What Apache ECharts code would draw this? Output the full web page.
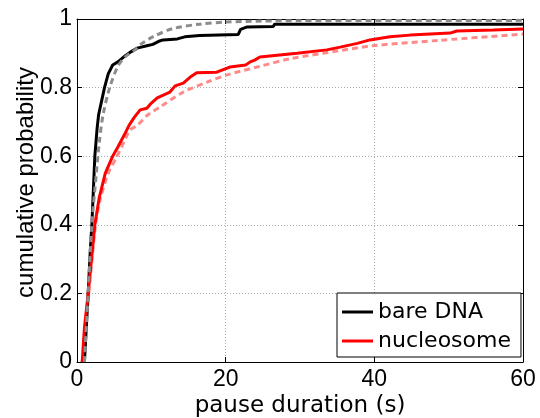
<!DOCTYPE html>
<html><head><meta charset="utf-8">
<script src="https://cdn.jsdelivr.net/npm/echarts@6/dist/echarts.min.js"></script>
<style>html,body{margin:0;padding:0;background:#fff}#c{width:540px;height:418px}</style>
</head><body><div id="c"></div>
<script>
// bare DNA empirical CDF (pause duration s, cumulative probability)
const bareX = [1.0,1.3,1.5,1.8,2.0,2.2,2.4,2.7,2.9,3.3,3.7,4.2,4.8,5.5,6.5,7.3,8.1,9.4,10.2,11.0,11.6,13.5,14.5,16.5,21.7,22.0,22.9,26.4,26.6,60];
const bareY = [0,0.12,0.2,0.33,0.4,0.5,0.6,0.68,0.72,0.76,0.8,0.84,0.866,0.875,0.893,0.905,0.915,0.922,0.926,0.935,0.939,0.942,0.948,0.952,0.955,0.97,0.977,0.978,0.985,0.985];
// nucleosome empirical CDF
const nucX = [0.7,1.0,1.5,2.0,2.4,3.0,3.8,4.8,5.5,6.5,7.0,7.7,8.5,9.4,10.0,10.8,12.5,13.2,14.3,15.2,16.1,18.8,20.2,20.6,22.7,23.3,23.9,24.6,29.6,33.6,35.4,37.7,39.4,42.1,44.8,50.2,51.1,56,60];
const nucY = [0,0.1,0.2,0.31,0.4,0.48,0.55,0.6,0.627,0.668,0.69,0.713,0.735,0.74,0.755,0.77,0.787,0.805,0.813,0.83,0.843,0.845,0.857,0.86,0.866,0.875,0.88,0.889,0.9,0.91,0.918,0.929,0.939,0.948,0.953,0.959,0.965,0.968,0.971];
// fitted curves (dashed)
const bareFitX = [1.0,1.5,2.0,2.6,3.0,3.5,4.4,5.5,6.5,7.8,8.5,10.2,12.9,16.5,20,25,30,60];
const bareFitY = [0,0.2,0.4,0.55,0.64,0.72,0.8,0.862,0.89,0.91,0.925,0.948,0.972,0.985,0.991,0.994,0.995,0.996];
const nucFitX = [0.7,1.1,1.6,2.5,3.2,4.2,5.4,6.5,7.1,8.1,9.5,11.2,14.3,17.5,20.2,24.6,28.7,35.4,39.8,48.8,60];
const nucFitY = [0,0.1,0.2,0.4,0.48,0.55,0.6,0.65,0.676,0.69,0.72,0.744,0.787,0.816,0.837,0.862,0.884,0.908,0.922,0.938,0.956];
const seriesNames = ['bare DNA','nucleosome'];
const xTicks = [0,20,40,60];
const yTicks = [0,0.2,0.4,0.6,0.8,1];

const zip = (a,b)=>a.map((v,i)=>[v,b[i]]);
const numFont = "'Liberation Sans', Arial, sans-serif";
const txtFont = "'DejaVu Sans', sans-serif";
const chart = echarts.init(document.getElementById('c'), null, {renderer:'canvas'});
const baseX = {type:'value',min:0,max:60,interval:20,
  axisLine:{show:true,onZero:false,lineStyle:{color:'#000',width:1}},
  axisTick:{show:true,inside:true,length:5,lineStyle:{color:'#000'}}};
const baseY = {type:'value',min:0,max:1,interval:0.2,
  axisLine:{show:true,onZero:false,lineStyle:{color:'#000',width:1}},
  axisTick:{show:true,inside:true,length:5,lineStyle:{color:'#000'}}};
chart.setOption({
  animation:false,
  grid:{left:77,top:19,right:17,bottom:56,containLabel:false,outerBoundsMode:'none'},
  legend:{data:seriesNames,orient:'vertical',left:337,top:293,
    backgroundColor:'#fff',borderColor:'#000',borderWidth:1,
    padding:[7,10,4,5],itemGap:5,itemWidth:31,itemHeight:3,icon:'rect',
    textStyle:{fontFamily:txtFont,fontSize:22,color:'#000',lineHeight:24}},
  xAxis:[Object.assign({},baseX,{position:'bottom',
      name:'pause duration (s)',nameLocation:'middle',nameGap:33,nameMoveOverlap:false,
      nameTextStyle:{fontFamily:txtFont,fontSize:23,color:'#000'},
      axisLabel:{fontFamily:numFont,fontSize:23,color:'#000',margin:6,formatter:v=>xTicks.includes(v)?String(v):''},
      splitLine:{show:true,lineStyle:{color:'#aaa',type:[1,2],width:1}}}),
    Object.assign({},baseX,{position:'top',axisLabel:{show:false},splitLine:{show:false}})],
  yAxis:[Object.assign({},baseY,{position:'left',
      name:'cumulative probability',nameLocation:'middle',nameGap:39,nameMoveOverlap:false,
      nameTextStyle:{fontFamily:numFont,fontSize:24,color:'#000',padding:[0,0,0,16]},
      axisLabel:{fontFamily:numFont,fontSize:23,color:'#000',margin:5,
        formatter:v=>{const t=yTicks.find(k=>Math.abs(k-v)<1e-9);return t===undefined?'':String(t);}},
      splitLine:{show:true,lineStyle:{color:'#aaa',type:[1,2],width:1}}}),
    Object.assign({},baseY,{position:'right',axisLabel:{show:false},splitLine:{show:false}})],
  series:[
    {name:seriesNames[0],type:'line',data:zip(bareX,bareY),showSymbol:false,symbol:'none',
      lineStyle:{color:'#000',width:3},itemStyle:{color:'#000'},z:3},
    {name:seriesNames[1],type:'line',data:zip(nucX,nucY),showSymbol:false,symbol:'none',
      lineStyle:{color:'#ff0000',width:3},itemStyle:{color:'#ff0000'},z:3},
    {name:'bare fit',type:'line',data:zip(bareFitX,bareFitY),showSymbol:false,symbol:'none',smooth:0.3,
      lineStyle:{color:'#8c8c8c',width:3,type:[6,4]},z:4},
    {name:'nuc fit',type:'line',data:zip(nucFitX,nucFitY),showSymbol:false,symbol:'none',smooth:0.3,
      lineStyle:{color:'#ff8a8a',width:3,type:[6,4]},z:2}
  ]
});
</script></body></html>
